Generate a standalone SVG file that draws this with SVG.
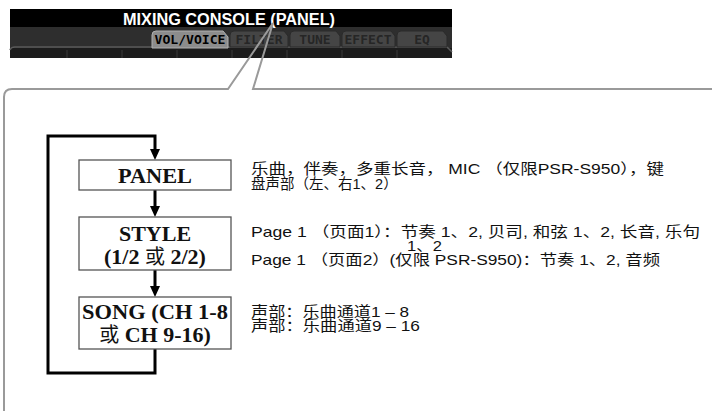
<svg xmlns="http://www.w3.org/2000/svg" width="712" height="411" viewBox="0 0 712 411">
<style>
.box{fill:#fff;stroke:#555;stroke-width:1.3}
.lbl{font-family:"Liberation Serif","Noto Sans CJK SC",serif;font-weight:bold;font-size:22px;fill:#111;text-anchor:middle}
.cjk{font-family:"Noto Sans CJK SC",serif;font-weight:normal;font-size:20px}
.desc{font-family:"Liberation Sans","Noto Sans CJK SC",sans-serif;font-size:14.5px;fill:#111}
.flow{fill:none;stroke:#000;stroke-width:3}
.head{fill:#000}
.tab{fill:#454545;stroke:#2a2a2a;stroke-width:1}
.tabt{font-family:"DejaVu Sans Mono",monospace;font-weight:bold;font-size:13px;fill:#262626;text-anchor:middle}
.callout{fill:none;stroke:#9a9a9a;stroke-width:2}
</style>
<rect width="712" height="411" fill="#fff"/>
<g id="screenshot">
<rect x="10" y="9" width="442" height="49" fill="#2e2e2e"/>
<rect x="10" y="9" width="442" height="18" fill="#000"/>
<rect x="10" y="48" width="442" height="10" fill="#1c1c1c"/>
<path d="M10 50 Q11 47 15 47 L447 47 L452 52" fill="none" stroke="#5a5a5a" stroke-width="1.5"/>
<g stroke="#3a3a3a" stroke-width="1">
<line x1="67" y1="50" x2="67" y2="58"/><line x1="122" y1="50" x2="122" y2="58"/><line x1="177" y1="50" x2="177" y2="58"/><line x1="232" y1="50" x2="232" y2="58"/><line x1="287" y1="50" x2="287" y2="58"/><line x1="342" y1="50" x2="342" y2="58"/><line x1="397" y1="50" x2="397" y2="58"/>
</g>
<path class="tab" d="M230 47 L230 35 Q230 31 234 31 L284 31 L288 36 L288 47 Z"/>
<path class="tab" d="M290 47 L290 35 Q290 31 294 31 L336 31 L340 36 L340 47 Z"/>
<path class="tab" d="M342 47 L342 35 Q342 31 346 31 L391 31 L395 36 L395 47 Z"/>
<path class="tab" d="M397 47 L397 35 Q397 31 401 31 L443 31 L447 36 L447 47 Z"/>
<text class="tabt" x="259" y="44">FILTER</text>
<text class="tabt" x="315" y="44">TUNE</text>
<text class="tabt" x="368" y="44">EFFECT</text>
<text class="tabt" x="422" y="44">EQ</text>
<path d="M152 48 L152 35 Q152 31 156 31 L223 31 L228 37 L228 48 Z" fill="#8c8c8c" stroke="#b0b0b0" stroke-width="1"/>
<text class="tabt" x="190" y="44" style="fill:#000" textLength="71" lengthAdjust="spacingAndGlyphs">VOL/VOICE</text>
<text x="229" y="25" font-family="Liberation Sans, sans-serif" font-weight="bold" font-size="16" fill="#fff" text-anchor="middle" textLength="212" lengthAdjust="spacingAndGlyphs">MIXING CONSOLE (PANEL)</text>
</g>
<g id="callout">
<path class="callout" d="M4 411 L4 97 Q4 89 12 89 L228 89 L273 23 L253 89 L712 89"/>
</g>
<g id="connectors">
<path class="flow" d="M155 349 L155 373 L48 373 L48 136 L155 136 L155 151"/>
<polygon class="head" points="150,149 160,149 155,160"/>
<line class="flow" x1="155" y1="190" x2="155" y2="207"/>
<polygon class="head" points="150,206 160,206 155,217"/>
<line class="flow" x1="155" y1="270" x2="155" y2="287"/>
<polygon class="head" points="150,286 160,286 155,297"/>
</g>
<g id="panel">
<rect class="box" x="79" y="160" width="152" height="30"/>
<text class="lbl" x="155" y="183" textLength="74" lengthAdjust="spacingAndGlyphs">PANEL</text>
<text class="desc" x="251" y="174" textLength="413" lengthAdjust="spacingAndGlyphs">乐曲，伴奏，多重长音， MIC （仅限PSR-S950），键</text>
<text class="desc" x="251" y="189">盘声部（左、右1、2）</text>
</g>
<g id="style">
<rect class="box" x="79" y="217" width="152" height="53"/>
<text class="lbl" x="155" y="241">STYLE</text>
<text class="lbl" x="155" y="264">(1/2 <tspan class="cjk">或</tspan> 2/2)</text>
<text class="desc" x="251" y="237" textLength="449" lengthAdjust="spacingAndGlyphs">Page 1 （页面1）：节奏 1、2, 贝司, 和弦 1、2, 长音, 乐句</text>
<text class="desc" x="407" y="251" textLength="35" lengthAdjust="spacingAndGlyphs">1、2</text>
<text class="desc" x="251" y="265" textLength="409" lengthAdjust="spacingAndGlyphs">Page 1 （页面2）(仅限 PSR-S950)：节奏 1、2, 音频</text>
</g>
<g id="song">
<rect class="box" x="79" y="297" width="152" height="52"/>
<text class="lbl" x="155" y="319" textLength="146" lengthAdjust="spacingAndGlyphs">SONG (CH 1-8</text>
<text class="lbl" x="155" y="342"><tspan class="cjk">或</tspan> CH 9-16)</text>
<text class="desc" x="251" y="317" textLength="158" lengthAdjust="spacingAndGlyphs">声部：乐曲通道1 – 8</text>
<text class="desc" x="251" y="331" textLength="169" lengthAdjust="spacingAndGlyphs">声部：乐曲通道9 – 16</text>
</g>
</svg>
